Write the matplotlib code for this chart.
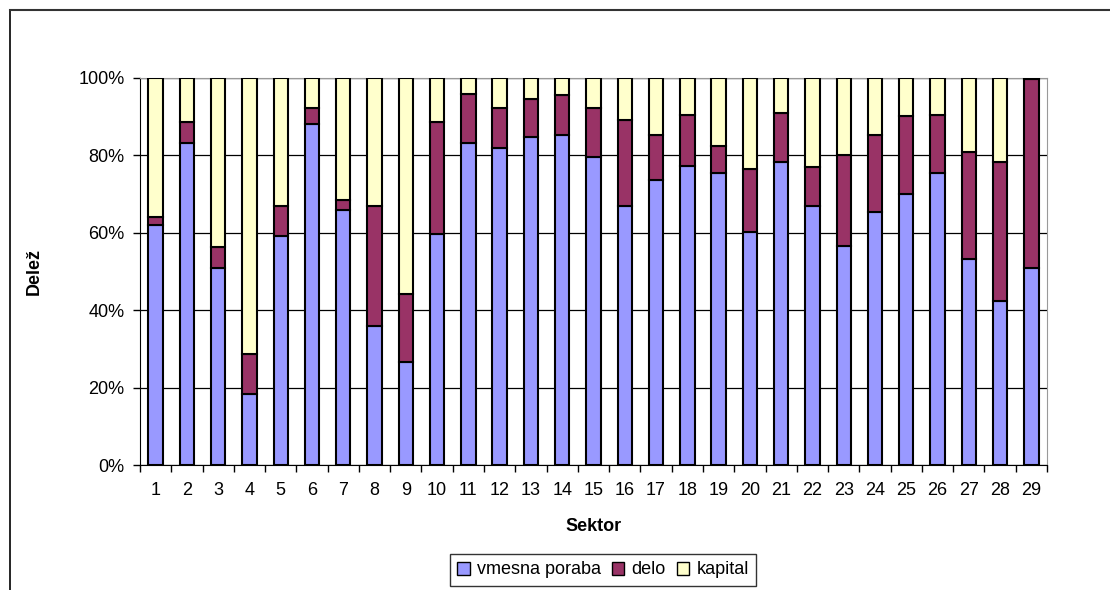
import numpy as np
import matplotlib.pyplot as plt
from matplotlib.lines import Line2D
from matplotlib.patches import Patch

plt.rcParams['font.family'] = ['Liberation Sans', 'DejaVu Sans']

# Sectors 1..29, shares in %
sectors = [str(i) for i in range(1, 30)]
vmesna_poraba = [61.9, 83.2, 50.9, 18.3, 59.1, 88.2, 65.9, 35.9, 26.5, 59.7,
                 83.2, 81.8, 84.7, 85.3, 79.6, 66.8, 73.7, 77.3, 75.4, 60.1,
                 78.2, 67.0, 56.5, 65.5, 70.0, 75.4, 53.2, 42.4, 51.0]
delo_top = [64.2, 88.7, 56.4, 28.7, 66.8, 92.2, 68.6, 66.8, 44.1, 88.6,
            95.9, 92.2, 94.6, 95.5, 92.2, 89.1, 85.4, 90.5, 82.3, 76.5,
            90.9, 76.9, 80.0, 85.4, 90.1, 90.5, 81.0, 78.3, 99.7]

vmesna = np.array(vmesna_poraba)
delo = np.array(delo_top) - vmesna
kapital = 100.0 - np.array(delo_top)

c_vmesna = '#9999FF'
c_delo = '#993366'
c_kapital = '#FFFFCC'

fig = plt.figure(figsize=(11.1, 5.9), dpi=100)
ax = fig.add_axes([140 / 1110, 1 - 465 / 590, 907 / 1110, 387 / 590])

x = np.arange(len(sectors))
w = 0.46
kw = dict(width=w, edgecolor='black', linewidth=1.5, zorder=3)
ax.bar(x, vmesna, color=c_vmesna, **kw)
ax.bar(x, delo, bottom=vmesna, color=c_delo, **kw)
ax.bar(x, kapital, bottom=vmesna + delo, color=c_kapital, **kw)

ax.set_xlim(-0.5, len(sectors) - 0.5)
ax.set_ylim(0, 100)
ax.set_yticks(np.arange(0, 101, 20))
ax.set_yticklabels([f'{v}%' for v in range(0, 101, 20)], fontsize=13)
ax.yaxis.grid(True, color='black', linewidth=0.9, zorder=0)
ax.set_axisbelow(True)

ax.set_xticks(x)
ax.set_xticklabels(sectors, fontsize=13)
ax.tick_params(axis='x', which='major', length=0, pad=12)
ax.set_xticks(np.arange(-0.5, len(sectors), 1), minor=True)
ax.tick_params(axis='x', which='minor', length=5, direction='out', width=1)
ax.tick_params(axis='y', length=5, direction='out', width=1, pad=6)

for s in ['top', 'right']:
    ax.spines[s].set_color('#999999')
ax.spines['left'].set_color('black')
ax.spines['bottom'].set_color('black')

ax.set_xlabel('Sektor', fontsize=13, fontweight='bold', labelpad=14)
ax.set_ylabel('Delež', fontsize=13, fontweight='bold', labelpad=26)

handles = [Patch(facecolor=c_vmesna, edgecolor='black', label='vmesna poraba'),
           Patch(facecolor=c_delo, edgecolor='black', label='delo'),
           Patch(facecolor=c_kapital, edgecolor='black', label='kapital')]
leg = fig.legend(handles=handles, loc='center', bbox_to_anchor=(603 / 1110, 1 - 570 / 590),
                 ncol=3, fontsize=13, frameon=True, fancybox=False, handlelength=0.7,
                 handleheight=0.7, handletextpad=0.4, columnspacing=0.6, borderpad=0.4)
leg.get_frame().set_edgecolor('black')
leg.get_frame().set_linewidth(1)

# outer chart border (only left and top visible in the crop)
fig.add_artist(Line2D([10 / 1110, 10 / 1110], [0, 1 - 10 / 590], color='black', lw=1.2))
fig.add_artist(Line2D([10 / 1110, 1], [1 - 10 / 590, 1 - 10 / 590], color='#333333', lw=1.5))

fig.savefig('out.png', dpi=100)
